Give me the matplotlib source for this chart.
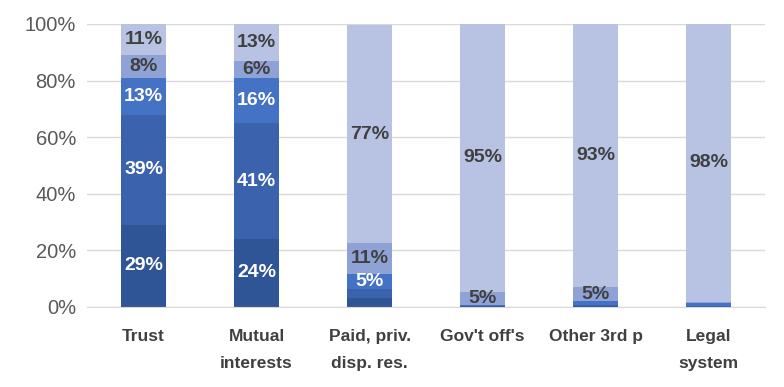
import matplotlib.pyplot as plt
import numpy as np
from matplotlib.ticker import PercentFormatter

plt.rcParams['font.family'] = ['Liberation Sans', 'DejaVu Sans']

categories = ['Trust', 'Mutual\ninterests', 'Paid, priv.\ndisp. res.', "Gov't off's", 'Other 3rd p', 'Legal\nsystem']
# five response levels, bottom to top (percent)
s1 = [29, 24, 3.0, 0.2, 0.3, 0.1]
s2 = [39, 41, 3.5, 0.1, 0.3, 0.2]
s3 = [13, 16, 5.0, 0.5, 1.4, 1.0]
s4 = [8, 6, 11, 4.6, 5.0, 0.5]
s5 = [11, 13, 77, 94.6, 93.0, 98.2]

series = [s1, s2, s3, s4, s5]
colors = ['#2F5597', '#3A62AD', '#4472C4', '#8FA2D6', '#B8C3E3']
text_colors = ['white', 'white', 'white', '#404040', '#404040']

fig, ax = plt.subplots(figsize=(7.84, 3.87), dpi=100)
fig.subplots_adjust(left=0.111, right=0.976, top=0.938, bottom=0.207)

x = np.arange(len(categories))
bottom = np.zeros(len(categories))
for vals, c, tc in zip(series, colors, text_colors):
    vals = np.array(vals, dtype=float)
    ax.bar(x, vals, 0.4, bottom=bottom, color=c, zorder=2)
    for xi, v, b in zip(x, vals, bottom):
        if v >= 4.5:
            ax.text(xi, b + v / 2, f'{v:.0f}%', ha='center', va='center',
                    color=tc, fontsize=14, fontweight='bold', zorder=3)
    bottom += vals

ax.set_xlim(-0.5, len(categories) - 0.5)
ax.set_ylim(0, 100)
ax.set_yticks(np.arange(0, 101, 20))
ax.yaxis.set_major_formatter(PercentFormatter(decimals=0))
ax.set_xticks(x)
ax.set_xticklabels(categories, fontweight='bold', color='#404040', fontsize=12.5,
                   linespacing=2.0, va='top')
ax.tick_params(axis='y', labelsize=14.5, labelcolor='#595959', length=0, pad=8)
ax.tick_params(axis='x', length=0, pad=16)
ax.grid(axis='y', color='#D9D9D9', linewidth=1, zorder=0)
for s in ['top', 'right', 'left']:
    ax.spines[s].set_visible(False)
ax.spines['bottom'].set_color('#D9D9D9')

plt.savefig('out.png', dpi=100)
